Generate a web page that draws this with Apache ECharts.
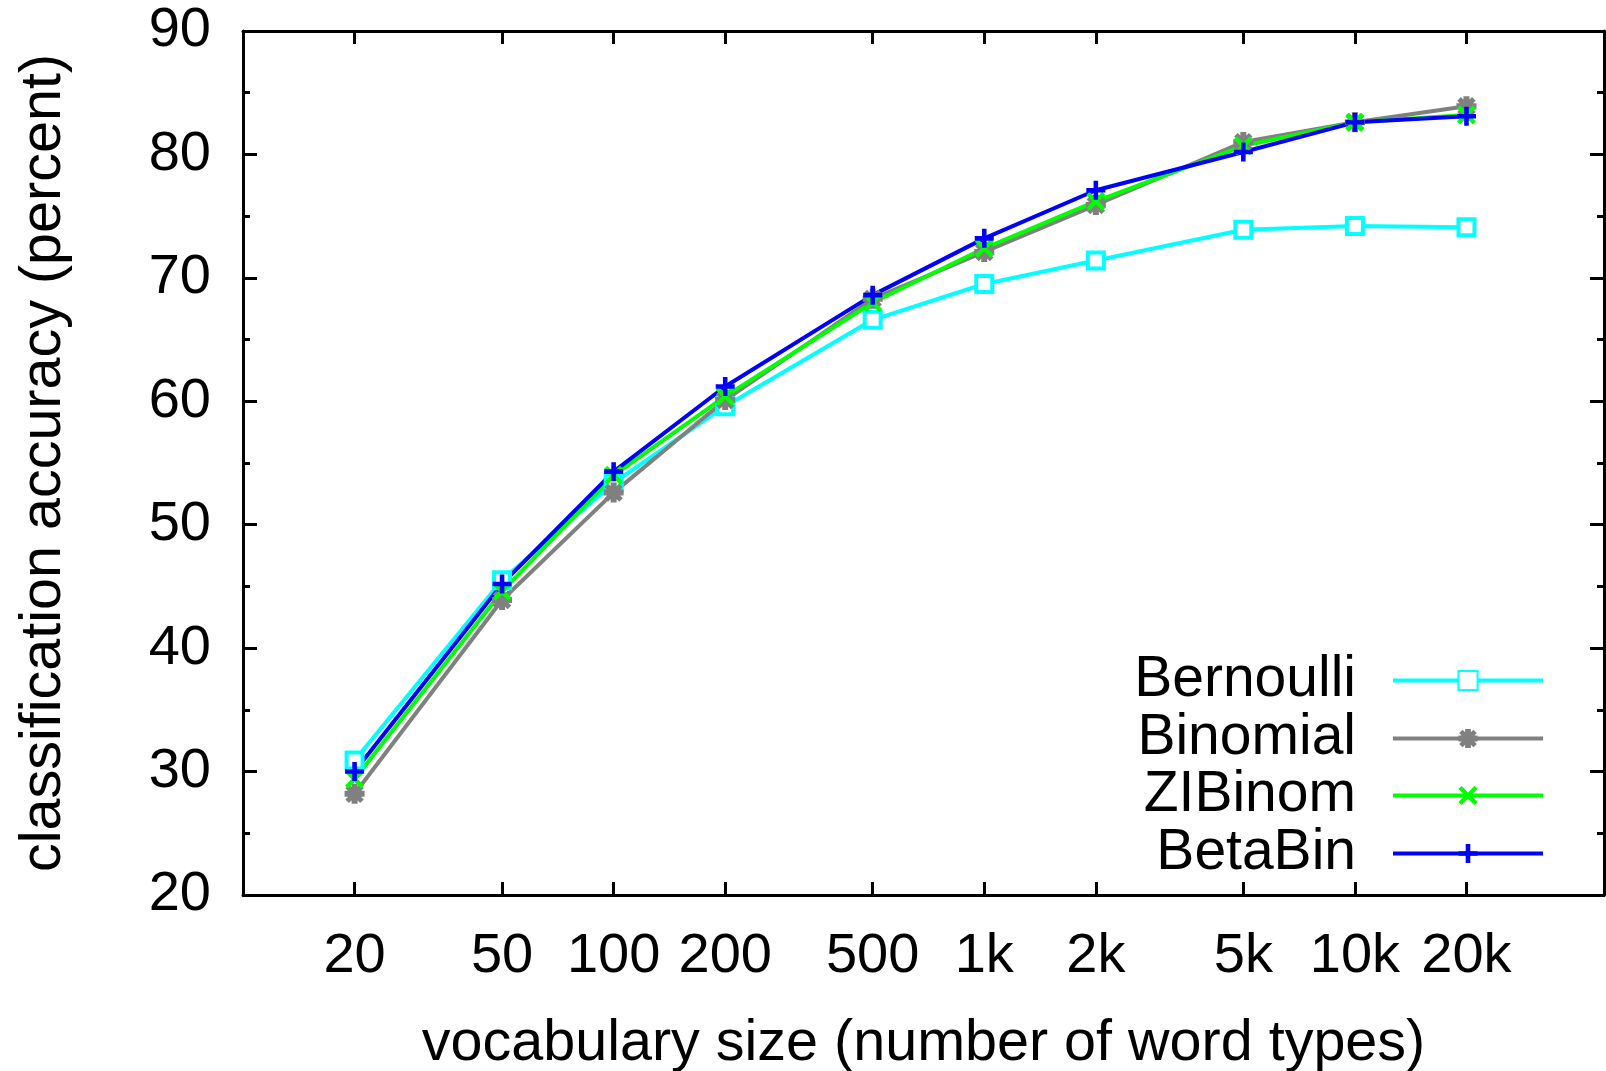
<!DOCTYPE html>
<html>
<head>
<meta charset="utf-8">
<script src="https://cdn.jsdelivr.net/npm/echarts@6/dist/echarts.min.js"></script>
<style>
  html, body { margin: 0; padding: 0; background: #fff; }
  #main { width: 1606px; height: 1071px; }
</style>
</head>
<body>
<div id="main"></div>
<script>
  // vocabulary sizes (x) and accuracies (y, percent)
  var vocabSizes = [20, 50, 100, 200, 500, 1000, 2000, 5000, 10000, 20000];
  var bernoulli = [30.9, 45.5, 53.4, 59.6, 66.6, 69.5, 71.4, 73.9, 74.2, 74.1];
  var binomial  = [28.2, 43.9, 52.6, 60.1, 68.3, 72.1, 75.9, 81.0, 82.6, 83.9];
  var zibinom   = [29.4, 44.6, 54.0, 60.4, 68.0, 72.4, 76.2, 80.7, 82.6, 83.2];
  var betabin   = [30.0, 45.2, 54.3, 61.2, 68.6, 73.2, 77.1, 80.2, 82.6, 83.1];
  var seriesNames = ['Bernoulli', 'Binomial', 'ZIBinom', 'BetaBin'];

  var FONT = 'Liberation Sans, Arial, sans-serif';
  var FS = 56;

  // marker shapes (gnuplot style)
  var plusPath = 'M-1.2,-5h2.4v3.8h3.8v2.4h-3.8v3.8h-2.4v-3.8h-3.8v-2.4h3.8z';
  var crossPath = 'M-4.6,-3.1L-3.1,-4.6L4.6,3.1L3.1,4.6Z M3.1,-4.6L4.6,-3.1L-3.1,4.6L-4.6,3.1Z';
  var starPath = 'M-1.5,-5h3v3.5h3.5v3h-3.5v3.5h-3v-3.5h-3.5v-3h3.5z M-4.6,-2.8L-2.8,-4.6L4.6,2.8L2.8,4.6Z M2.8,-4.6L4.6,-2.8L-2.8,4.6L-4.6,2.8Z';

  function pairs(ys) {
    return vocabSizes.map(function (x, i) { return [x, ys[i]]; });
  }

  function fmtX(v) {
    return v >= 1000 ? (v / 1000) + 'k' : String(v);
  }

  var myChart = echarts.init(document.getElementById('main'));

  var legendRows = [647, 705, 762, 820];
  var legends = seriesNames.map(function (n, i) {
    return {
      data: [n],
      right: 56,
      top: legendRows[i],
      align: 'right',
      itemWidth: 150,
      itemHeight: 24,
      selectedMode: false,
      lineStyle: { width: 4 },
      textStyle: {
        fontFamily: FONT, fontSize: 57, color: '#000',
        lineHeight: 56, padding: [0, 32, 0, 0]
      }
    };
  });

  var option = {
    animation: false,
    backgroundColor: '#fff',
    legend: legends,
    grid: { left: 243, top: 31, right: 2, bottom: 176, containLabel: false, outerBoundsMode: 'none' },
    xAxis: [
      {
        type: 'log', min: 10, max: 47000,
        name: 'vocabulary size (number of word types)',
        nameLocation: 'middle', nameGap: 120,
        nameTextStyle: { fontFamily: FONT, fontSize: 57.5, color: '#000' },
        axisLine: { lineStyle: { color: '#000', width: 3 } },
        axisTick: { inside: true, length: 13, customValues: vocabSizes, lineStyle: { color: '#000', width: 3 } },
        axisLabel: { customValues: vocabSizes, formatter: fmtX, margin: 34, fontFamily: FONT, fontSize: FS, color: '#000' },
        minorTick: { show: false },
        splitLine: { show: false }
      },
      {
        type: 'log', min: 10, max: 47000, position: 'top',
        axisLine: { lineStyle: { color: '#000', width: 3 } },
        axisTick: { inside: true, length: 13, customValues: vocabSizes, lineStyle: { color: '#000', width: 3 } },
        axisLabel: { show: false },
        splitLine: { show: false }
      }
    ],
    yAxis: [
      {
        type: 'value', min: 20, max: 90, interval: 10,
        name: 'classification accuracy (percent)',
        nameLocation: 'middle', nameGap: 170,
        nameTextStyle: { fontFamily: FONT, fontSize: 57.5, color: '#000' },
        axisLine: { show: true, lineStyle: { color: '#000', width: 3 } },
        axisTick: { show: true, inside: true, length: 14, lineStyle: { color: '#000', width: 3 } },
        minorTick: { show: true, splitNumber: 2, length: 7, lineStyle: { color: '#000', width: 3 } },
        axisLabel: { margin: 32, fontFamily: FONT, fontSize: FS, color: '#000' },
        splitLine: { show: false }
      },
      {
        type: 'value', min: 20, max: 90, interval: 10, position: 'right',
        axisLine: { show: true, lineStyle: { color: '#000', width: 3 } },
        axisTick: { show: true, inside: true, length: 14, lineStyle: { color: '#000', width: 3 } },
        minorTick: { show: true, splitNumber: 2, length: 7, lineStyle: { color: '#000', width: 3 } },
        axisLabel: { show: false },
        splitLine: { show: false }
      }
    ],
    series: [
      {
        name: 'Bernoulli', type: 'line', data: pairs(bernoulli),
        color: '#00ffff', symbol: 'rect', symbolSize: 16, showAllSymbol: true,
        lineStyle: { color: '#00ffff', width: 4 },
        itemStyle: { color: '#ffffff', borderColor: '#00ffff', borderWidth: 4 }
      },
      {
        name: 'Binomial', type: 'line', data: pairs(binomial),
        color: '#808080', symbol: 'path://' + starPath, symbolSize: 20, showAllSymbol: true,
        lineStyle: { width: 4 }
      },
      {
        name: 'ZIBinom', type: 'line', data: pairs(zibinom),
        color: '#00ff00', symbol: 'path://' + crossPath, symbolSize: 19, showAllSymbol: true,
        lineStyle: { width: 4 }
      },
      {
        name: 'BetaBin', type: 'line', data: pairs(betabin),
        color: '#0000ff', symbol: 'path://' + plusPath, symbolSize: 19, showAllSymbol: true,
        lineStyle: { width: 4 }
      }
    ]
  };
  myChart.setOption(option);
</script>
</body>
</html>
